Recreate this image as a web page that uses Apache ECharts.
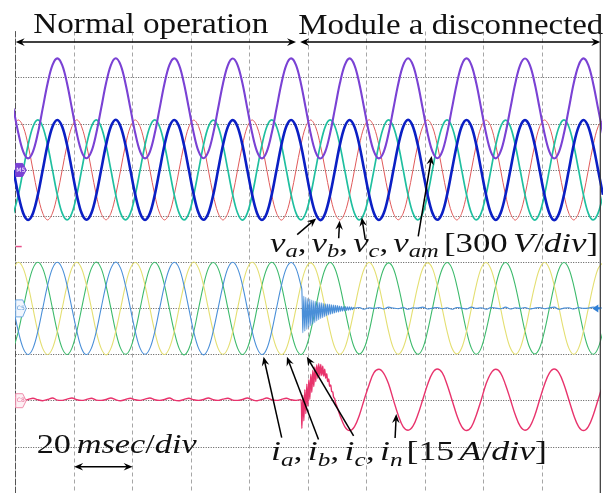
<!DOCTYPE html>
<html><head><meta charset="utf-8">
<script src="https://cdn.jsdelivr.net/npm/echarts@6/dist/echarts.min.js"></script>
<style>html,body{margin:0;padding:0;background:#fff}#c{width:615px;height:493px}</style>
</head><body><div id="c"></div>
<script>
// ---- Oscilloscope record: samples every 1/12 of a 20 ms period ----
const sampleStartMs = -0.76;
const sampleStepMs = 20 / 12;

// Phase voltages [V] (300 V/div)
const va = [0,-162,-281,-325,-281,-162,0,162,281,325,281,162,
 -1,-163,-282,-324,-280,-161,1,163,282,326,281,161,
 0,-162,-281,-325,-282,-162,0,162,281,325,282,162,
 1,-161,-280,-324,-281,-163,-1,161,280,324,281,163,
 0,-162,-281,-325,-281,-162,0,162,282,325,281,162,
 0,-163,-282,-326,-281,-161,0,163,281,325,280,161,
 -1,-162,-281,-325,-282,-162,1,162,281,326,281,162,
 0,-161,-280,-324,-281,-162,0,161,282,325,282,163,
 1,-162,-282,-325,-280,-161,0,162,281,324,281,162,
 0,-163,-281,-326,-281,-162,-1,163,280,325,281,161,
 0,-162];
const vb = [281,325,281,162,0,-162,-281,-325,-281,-162,0,162,
 282,326,280,161,1,-163,-282,-324,-281,-161,0,163,
 281,325,281,162,0,-162,-281,-325,-282,-162,1,162,
 280,324,282,163,-1,-161,-280,-325,-281,-163,0,161,
 281,325,281,162,0,-162,-281,-326,-281,-162,0,162,
 282,325,281,161,0,-163,-282,-325,-280,-161,-1,162,
 281,326,280,162,1,-162,-281,-324,-281,-162,0,163,
 281,325,281,163,0,-161,-280,-325,-282,-162,0,162,
 280,324,282,162,-1,-162,-281,-326,-281,-163,1,161,
 281,325,281,161,0,-162,-282,-325,-281,-162,0,162,
 281,325];
const vc = [-281,-162,0,162,281,325,281,162,0,-162,-281,-325,
 -280,-161,1,163,282,326,280,161,0,-163,-282,-324,
 -281,-162,0,162,281,325,281,162,1,-162,-281,-325,
 -282,-163,-1,161,280,324,282,163,0,-161,-280,-326,
 -281,-162,0,162,281,325,281,162,0,-162,-281,-325,
 -280,-161,0,163,282,325,281,161,-1,-163,-282,-325,
 -281,-162,1,162,281,326,280,162,0,-162,-281,-324,
 -282,-163,0,161,281,325,281,163,0,-161,-280,-325,
 -281,-162,-1,162,280,324,282,162,1,-162,-281,-326,
 -281,-161,0,163,281,325,281,161,0,-162,-282,-325,
 -281,-162];
// Module voltage v_am [V] (300 V/div, same ground as phase voltages)
const vam = [400,238,119,75,119,238,400,562,681,725,681,562,
 399,237,118,76,120,239,401,563,682,726,681,561,
 400,238,119,75,118,238,400,562,681,725,682,562,
 401,239,120,76,119,237,399,561,680,724,681,563,
 400,238,119,75,119,238,400,562,682,725,681,562,
 400,237,118,74,119,239,400,563,681,725,680,561,
 399,238,119,75,118,238,401,562,681,726,681,562,
 400,239,120,76,119,238,400,561,682,725,682,563,
 401,238,118,75,120,239,400,562,681,724,681,562,
 400,237,119,74,119,238,399,563,680,725,681,561,
 400,238];
// Phase currents [A] (15 A/div)
const ia = [0,-7.5,-13,-15,-13,-7.5,0,7.5,13,15,13,7.5,
 0,-7.4,-13.1,-15,-12.9,-7.5,0.1,7.6,13,15.1,13,7.4,
 0,-7.5,-13,-14.9,-13,-7.6,0,7.5,12.9,15,13.1,7.5,
 -0.1,-7.6,-13,-15.1,-13,-7.4,0,7.4,13,15,13,7.6,
 0,-7.5,-12.9,-15,-13.1,-7.5,0.1,7.5,13,14.9,13,7.5,
 0.2,-0.3,0.1,0.4,-0.2,0.3,-0.1,0.2,0.4,-0.2,0.1,0.3,
 -0.3,0.2,0.0,0.3,-0.2,0.4,0.1,-0.1,0.3,-0.3,0.2,0.1,
 0.4,-0.2,0.1,0.3,-0.1,0.2,-0.3,0.3,0.1,-0.2,0.4,0.0,
 0.2,-0.3,0.3,0.1,-0.1,0.4,-0.2,0.2,0.0,0.3,-0.2,0.1,
 0.3,-0.1,0.2,0.4,-0.3,0.1,0.2,-0.2,0.3,0.0,0.1,0.4,
 0.2,0.1];
const ib = [13,15,13,7.5,0,-7.5,-13,-15,-13,-7.5,0,7.5,
 13.1,15,12.9,7.4,0.1,-7.6,-13,-15.1,-13,-7.4,0,7.6,
 13,14.9,13,7.5,0,-7.5,-13.1,-15,-12.9,-7.5,0.1,7.5,
 12.9,15.1,13,7.6,-0.1,-7.4,-13,-14.9,-13,-7.6,0,7.4,
 13,15,13.1,7.5,0,-7.5,-12.9,-15,-13.1,-7.5,0,7.5,
 13,14.8,12.9,7.4,0,-7.4,-12.9,-14.9,-12.9,-7.3,0,7.4,
 12.9,14.9,12.9,7.5,0.1,-7.5,-13,-14.9,-12.8,-7.4,-0.1,7.3,
 12.9,14.8,13,7.4,0,-7.4,-12.9,-14.8,-12.9,-7.4,0,7.5,
 13,14.9,12.8,7.3,-0.1,-7.5,-12.9,-14.9,-13,-7.4,0.1,7.4,
 12.9,14.9,12.9,7.4,0,-7.4,-12.9,-14.9,-12.9,-7.4,0,7.4,
 12.9,14.9];
const ic = [-13,-7.5,0,7.5,13,15,13,7.5,0,-7.5,-13,-15,
 -12.9,-7.4,0.1,7.6,13,15.1,13,7.4,0,-7.6,-13,-14.9,
 -13,-7.5,0,7.5,13.1,15,12.9,7.5,-0.1,-7.5,-13,-15.1,
 -13.1,-7.6,0,7.4,13,14.9,13,7.6,0.1,-7.4,-12.9,-15,
 -13,-7.5,0,7.5,12.9,15,13.1,7.5,0,-7.5,-13,-15,
 -12.9,-7.4,0,7.4,12.9,14.9,12.9,7.4,-0.1,-7.4,-12.9,-14.8,
 -12.9,-7.5,0.1,7.5,12.9,14.8,12.9,7.3,0,-7.5,-12.9,-14.9,
 -13,-7.4,0,7.4,12.8,14.9,13,7.4,0,-7.4,-12.9,-14.9,
 -12.9,-7.3,-0.1,7.4,12.9,14.9,12.9,7.5,0.1,-7.4,-12.9,-14.8,
 -12.9,-7.4,0,7.4,12.9,14.9,12.9,7.4,0,-7.4,-12.9,-14.9,
 -12.9,-7.4];
// Neutral current [A] (15 A/div)
const iN = [0.9,0.3,0.1,0.4,0.8,0.3,0.0,0.4,0.9,0.2,0.1,0.5,
 0.9,0.3,0.1,0.4,0.8,0.2,0.1,0.4,0.9,0.3,0.0,0.4,
 0.8,0.3,0.1,0.5,0.9,0.3,0.1,0.4,0.9,0.2,0.0,0.4,
 0.8,0.3,0.1,0.4,0.9,0.3,0.1,0.5,0.8,0.2,0.1,0.4,
 0.9,0.3,0.0,0.4,0.9,0.3,0.1,0.4,0.8,0.3,0.1,0.4,
 0.3,5.3,9.0,10.3,9.0,5.3,0.3,-4.7,-8.4,-9.7,-8.4,-4.7,
 0.4,5.2,9.1,10.2,8.9,5.4,0.2,-4.8,-8.5,-9.6,-8.3,-4.6,
 0.3,5.3,9.0,10.3,9.1,5.3,0.3,-4.7,-8.4,-9.7,-8.5,-4.7,
 0.2,5.4,8.9,10.2,9.0,5.2,0.4,-4.6,-8.3,-9.6,-8.4,-4.8,
 0.3,5.3,9.0,10.3,9.0,5.3,0.3,-4.7,-8.4,-9.7,-8.4,-4.7,
 0.3,5.3];

// Fast transient captured right after module a is disconnected
const transientStartMs = 97.9;
const transientStepMs = 0.34;
const iaTransient = [6.1,-7.9,3.9,-7.4,3.6,-6.8,3.2,-6.2,3.0,-5.6,2.7,-5.1,2.5,-4.6,2.3,-4.1,2.1,-3.7,1.9,-3.3,1.8,-3.0,1.6,-2.7,1.5,-2.4,1.4,-2.1,1.3,-1.9,1.2,-1.7,1.1,-1.5,1.0,-1.3,0.9,-1.2,0.8,-1.0,0.7,-0.9,0.6,-0.8,0.6,-0.7,0.5,-0.6,0.5,-0.5,0.4,-0.4,0.3];
const inTransient = [-9.0,1.8,-6.5,3.6,-4.2,5.4,-1.8,6.8,0.4,8.6,2.7,9.9,4.6,11.0,6.2,11.7,7.3,12.0,8.0,11.8,8.2,11.2,8.0,10.2,7.3,8.8,6.2,7.1,4.7,5.1,3.0,2.9,1.1,0.7,-0.9,-1.6];

// Channel settings (ground level in divisions, units per division)
const VOLT_PER_DIV = 300, AMP_PER_DIV = 15;
const GND_V = 7, GND_I = 4, GND_N = 2;

function buildTrace(vals, ground, perDiv, tr) {
  const pts = [];
  let trEnd = -Infinity;
  if (tr) trEnd = transientStartMs + (tr.length - 1) * transientStepMs;
  vals.forEach((v, k) => {
    const t = sampleStartMs + k * sampleStepMs;
    if (tr && t >= transientStartMs && t <= trEnd) return;
    pts.push([t, ground + v / perDiv]);
  });
  if (tr) tr.forEach((v, i) => pts.push([transientStartMs + i * transientStepMs, ground + v / perDiv]));
  pts.sort((a, b) => a[0] - b[0]);
  return pts;
}

const chans = [
  {vals: vb, g: GND_V, s: VOLT_PER_DIV, color: '#e05a5a', w: 1.0},
  {vals: vc, g: GND_V, s: VOLT_PER_DIV, color: '#1fbf9f', w: 1.7},
  {vals: va, g: GND_V, s: VOLT_PER_DIV, color: '#0b1fc4', w: 2.6},
  {vals: vam, g: GND_V, s: VOLT_PER_DIV, color: '#7a42d4', w: 2.1},
  {vals: ic, g: GND_I, s: AMP_PER_DIV, color: '#3dba6c', w: 1.1},
  {vals: ib, g: GND_I, s: AMP_PER_DIV, color: '#e4df72', w: 1.1},
  {vals: ia, g: GND_I, s: AMP_PER_DIV, color: '#4a8fd8', w: 1.1, tr: iaTransient},
  {vals: iN, g: GND_N, s: AMP_PER_DIV, color: '#e8336c', w: 1.4, tr: inTransient}
];

const chart = echarts.init(document.getElementById('c'), null, {renderer: 'canvas', width: 615, height: 493});
chart.setOption({
  animation: false,
  backgroundColor: '#ffffff',
  grid: {left: 15.7, top: 31.5, width: 584.6, height: 465},
  xAxis: {type: 'value', min: 0, max: 200, interval: 20,
    axisLine: {show: false}, axisTick: {show: false}, axisLabel: {show: false},
    splitLine: {show: true, showMinLine: false, showMaxLine: false, lineStyle: {color: '#a6a6a6', type: [4, 3], width: 1}}},
  yAxis: {type: 'value', min: 0, max: 10, interval: 1,
    axisLine: {show: true, onZero: false, lineStyle: {color: '#555', type: [6, 2], width: 1}},
    axisTick: {show: false}, axisLabel: {show: false},
    splitLine: {show: true, showMaxLine: false, lineStyle: {color: '#555', type: [1, 1.5], width: 1}}},
  series: chans.map((c, i) => ({
    type: 'line', data: buildTrace(c.vals, c.g, c.s, c.tr), showSymbol: false, smooth: 0.35,
    lineStyle: {color: c.color, width: c.w}, z: 2 + i, silent: true
  }))
});

// ---------- annotations ----------
const px = d => chart.convertToPixel({gridIndex: 0}, d);
const FAM = "'Liberation Serif', 'Times New Roman', serif";
const mctx = document.createElement('canvas').getContext('2d');

function mathGroup(tokens, x0, baseline, targetW, size, subSize, subDy) {
  let x = 0; const items = [];
  tokens.forEach(tk => {
    if (tk.sp) { x += tk.sp; return; }
    const sz = tk.sub ? subSize : size;
    const f = (tk.it ? 'italic ' : '') + sz + 'px ' + FAM;
    mctx.font = f;
    const m = mctx.measureText(tk.t);
    const mid = (m.fontBoundingBoxAscent !== undefined) ? (m.fontBoundingBoxAscent - m.fontBoundingBoxDescent) / 2 : 0.34 * sz;
    items.push({type: 'text', x: x, y: baseline + (tk.sub ? subDy : 0) - mid, silent: true,
      style: {text: tk.t, fontSize: sz, fontFamily: FAM, fontStyle: tk.it ? 'italic' : 'normal', fill: '#111', align: 'left', verticalAlign: 'middle'}});
    x += m.width;
  });
  return {type: 'group', x: x0, y: 0, scaleX: targetW / x, scaleY: 1, children: items, z: 100};
}

function head(tip, from) {
  const dx = tip[0] - from[0], dy = tip[1] - from[1], L = Math.hypot(dx, dy);
  const ux = dx / L, uy = dy / L, nx = -uy, ny = ux, len = 9, hw = 3.8;
  const bx = tip[0] - ux * len, by = tip[1] - uy * len;
  return {type: 'polygon', silent: true, z: 100, shape: {points: [tip, [bx + nx * hw, by + ny * hw], [tip[0] - ux * len * 0.65, tip[1] - uy * len * 0.65], [bx - nx * hw, by - ny * hw]]}, style: {fill: '#000'}};
}
function arrow(fromD, toD, both) {
  const a = px(fromD), b = px(toD);
  const dx = b[0] - a[0], dy = b[1] - a[1], L = Math.hypot(dx, dy), ux = dx / L, uy = dy / L;
  const b2 = [b[0] - ux * 5, b[1] - uy * 5];
  const a2 = both ? [a[0] + ux * 5, a[1] + uy * 5] : a;
  const out = [{type: 'line', silent: true, z: 100, shape: {x1: a2[0], y1: a2[1], x2: b2[0], y2: b2[1]}, style: {stroke: '#000', lineWidth: 1.5}}, head(b, a)];
  if (both) out.push(head(a, b));
  return out;
}

// arrows: [from(ms,div), to(ms,div), double?]
const arrowSpecs = [
  [[0, 9.77], [95.9, 9.77], true],
  [[97.3, 9.77], [200, 9.77], true],
  [[20, 0.57], [40, 0.57], true],
  [[96.3, 5.60], [102.8, 5.95], false],
  [[110.5, 5.52], [110.8, 5.90], false],
  [[119.6, 5.49], [118.4, 5.97], false],
  [[137.7, 5.56], [142.3, 7.30], false],
  [[91.0, 1.20], [84.8, 2.95], false],
  [[103.6, 1.16], [92.8, 2.95], false],
  [[115.6, 1.24], [99.6, 2.95], false],
  [[129.8, 1.19], [130.2, 1.71], false]
];

const it = (t, sub) => ({t, it: 1, sub: sub ? 1 : 0});
const rm = t => ({t});
const sp = w => ({sp: w});

const graphics = [];
graphics.push(mathGroup([rm('Normal operation')], 33.3, 35.5, 235, 30, 20, 0));
graphics.push(mathGroup([rm('Module a disconnected')], 298.3, 36.5, 305, 30, 20, 0));
graphics.push(mathGroup([it('v'), it('a', 1), rm(','), sp(4), it('v'), it('b', 1), rm(','), sp(4), it('v'), it('c', 1), rm(','), sp(4), it('v'), it('am', 1), sp(4), rm('[300'), sp(4), it('V'), rm('/'), it('div'), rm(']')], 270, 253.5, 328, 27, 19, 5));
graphics.push(mathGroup([it('i'), it('a', 1), rm(','), sp(4), it('i'), it('b', 1), rm(','), sp(4), it('i'), it('c', 1), rm(','), sp(4), it('i'), it('n', 1), sp(3), rm('[15'), sp(4), it('A'), rm('/'), it('div'), rm(']')], 271, 462, 276, 27, 19, 5));
graphics.push(mathGroup([rm('20'), sp(4.5), it('msec'), rm('/'), it('div')], 36.7, 455, 160, 27, 19, 5));
arrowSpecs.forEach(a => graphics.push(...arrow(a[0], a[1], a[2])));

// right frame line
const rTop = px([200, 10.36]), rBot = px([200, 0]);
graphics.push({type: 'line', silent: true, z: 90, shape: {x1: rTop[0], y1: rTop[1], x2: rBot[0], y2: rBot[1]}, style: {stroke: '#333', lineWidth: 1.2}});

// channel ground markers
function tag(d, label, fill, stroke, textColor, h) {
  const p = px([0, d]); const x = p[0], y = p[1];
  return [{type: 'polygon', silent: true, z: 95, shape: {points: [[x, y - h], [x + 7, y - h], [x + 10.5, y], [x + 7, y + h], [x, y + h]]}, style: {fill, stroke, lineWidth: 1}},
    {type: 'text', silent: true, z: 96, x: x + 5, y: y, style: {text: label, fontSize: 6, fontFamily: 'DejaVu Sans', fill: textColor, align: 'center', verticalAlign: 'middle'}}];
}
graphics.push(...tag(GND_V, 'M5', '#7a42d4', '#7a42d4', '#fff', 6.5));
graphics.push(...tag(GND_I, 'C5', '#f1f6fd', '#6ea8e2', '#5a96d6', 8.5));
graphics.push(...tag(GND_N, 'C8', '#fdf0f4', '#f08cab', '#e8709a', 7));
const pm = px([0, 5.34]);
graphics.push({type: 'line', silent: true, z: 95, shape: {x1: pm[0], y1: pm[1], x2: pm[0] + 6, y2: pm[1]}, style: {stroke: '#e8508a', lineWidth: 1.5}});
const ra = px([200, GND_I]);
graphics.push({type: 'polygon', silent: true, z: 95, shape: {points: [[ra[0] - 8, ra[1]], [ra[0] - 2, ra[1] - 4], [ra[0] - 2, ra[1] + 4]]}, style: {fill: '#2f7fd6'}});
graphics.push({type: 'line', silent: true, z: 95, shape: {x1: ra[0] - 3, y1: ra[1], x2: ra[0], y2: ra[1]}, style: {stroke: '#2f7fd6', lineWidth: 2}});

chart.setOption({graphic: {elements: graphics}});
</script>
</body></html>
